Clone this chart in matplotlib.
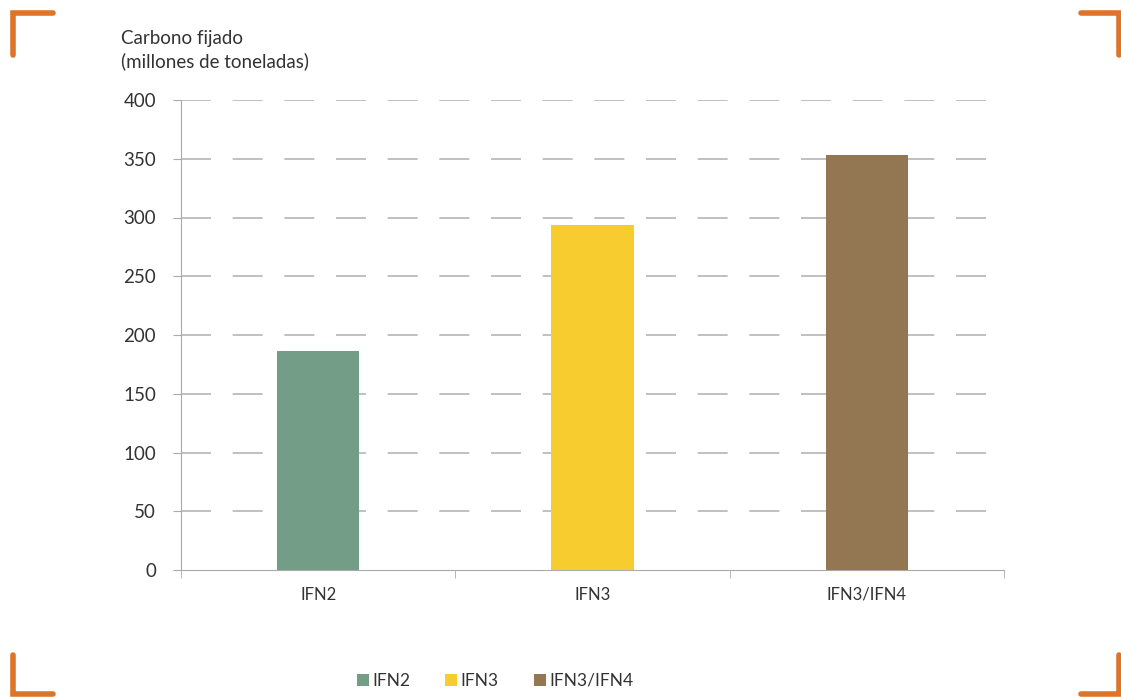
import matplotlib
matplotlib.use("Agg")
import matplotlib.pyplot as plt
from matplotlib.lines import Line2D
from matplotlib.patches import Patch

categories = ["IFN2", "IFN3", "IFN3/IFN4"]
values = [186.5, 293.5, 353.0]
colors = ["#739d87", "#f7cc2e", "#937753"]
yticks = [0, 50, 100, 150, 200, 250, 300, 350, 400]

plt.rcParams['font.family'] = ['Lato', 'DejaVu Sans']
text_color = "#333333"
orange = "#dc7429"

fig = plt.figure(figsize=(11.21, 6.97), dpi=100)
ax = fig.add_axes([181 / 1121, 1 - 570 / 697, (1004 - 181) / 1121, 470 / 697])

x = list(range(len(categories)))
ax.bar(x, values, width=0.3, color=colors, zorder=3)
ax.set_xlim(-0.5, 2.5)
ax.set_ylim(0, 400)
ax.set_yticks(yticks)
ax.set_yticklabels([str(v) for v in yticks], fontsize=13.5, color=text_color)
ax.set_xticks(x)
ax.set_xticklabels(categories, fontsize=12, color=text_color)
ax.tick_params(axis='x', length=0, pad=12)
ax.tick_params(axis='y', length=6, color="#aaaaaa", pad=12)

# category boundary ticks on x axis
ax.set_xticks([-0.5, 0.5, 1.5, 2.5], minor=True)
ax.tick_params(axis='x', which='minor', length=6, color="#aaaaaa")

for v in yticks[1:]:
    ax.axhline(v, color="#b5b5b5", lw=1.2, dashes=(18, 13), zorder=1)

for side in ["top", "right"]:
    ax.spines[side].set_visible(False)
ax.spines["left"].set_color("#aaaaaa")
ax.spines["bottom"].set_color("#aaaaaa")

fig.text(121 / 1121, 1 - 50 / 697, "Carbono fijado\n(millones de toneladas)",
         fontsize=13.5, color=text_color, va="center", ha="left", linespacing=1.35)

handles = [Patch(facecolor=c, edgecolor="none") for c in colors]
fig.legend(handles, categories, loc="center", bbox_to_anchor=(495 / 1121, 1 - 681 / 697),
           ncol=3, frameon=False, fontsize=12.5, handlelength=0.7, handleheight=0.7,
           handletextpad=0.2, columnspacing=2.0, labelcolor=text_color)

# orange corner brackets
W, H = 1121, 697
corners = [
    [(13, 55), (13, 13), (53, 13)],
    [(1081, 13), (1119, 13), (1119, 55)],
    [(13, 655), (13, 694), (53, 694)],
    [(1081, 694), (1119, 694), (1119, 655)],
]
for pts in corners:
    xs = [p[0] / W for p in pts]
    ys = [1 - p[1] / H for p in pts]
    fig.add_artist(Line2D(xs, ys, color=orange, lw=4, solid_capstyle="round",
                          solid_joinstyle="miter", transform=fig.transFigure))

fig.savefig("out.png", dpi=100)
